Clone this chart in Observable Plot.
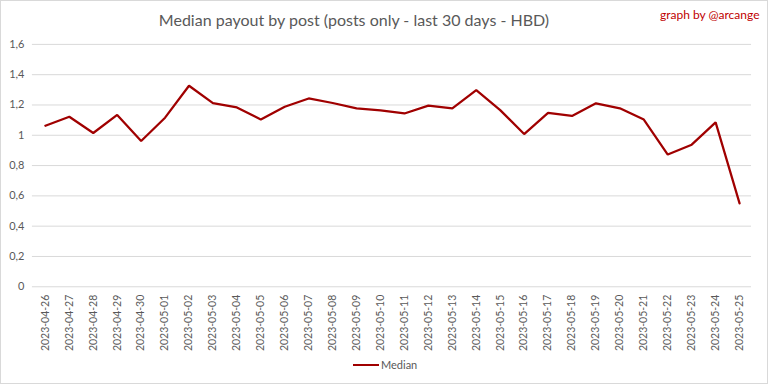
<!DOCTYPE html>
<html>
<head>
<meta charset="utf-8">
<script src="https://cdn.jsdelivr.net/npm/d3@7"></script>
<script src="https://cdn.jsdelivr.net/npm/@observablehq/plot@0.6"></script>
<style>
  body { margin: 0; background: #fff; }
  #chart { position: relative; width: 768px; height: 384px; box-sizing: border-box; border: 1px solid #d9d9d9; overflow: hidden; font-family: Lato, "Open Sans", sans-serif; }
  #chart svg { position: absolute; left: -1px; top: -1px; }
  #title { position: absolute; top: 9px; left: 0; width: 706px; text-align: center; font-size: 16px; color: #595959; z-index: 2; }
  #credit { position: absolute; top: 6px; left: 659px; font-size: 12px; color: #c00000; z-index: 2; }
  #legend { position: absolute; top: 357px; left: 352px; font-size: 11px; color: #595959; display: flex; align-items: center; z-index: 2; }
  #legend span.sw { display: inline-block; width: 26px; height: 2px; background: #a00000; margin-right: 2px; }
</style>
</head>
<body>
<div id="chart">
  <div id="title">Median payout by post (posts only - last 30 days - HBD)</div>
  <div id="credit">graph by @arcange</div>
  <div id="legend"><span class="sw"></span>Median</div>
</div>
<script>
const dates = ["2023-04-26","2023-04-27","2023-04-28","2023-04-29","2023-04-30","2023-05-01","2023-05-02","2023-05-03","2023-05-04","2023-05-05","2023-05-06","2023-05-07","2023-05-08","2023-05-09","2023-05-10","2023-05-11","2023-05-12","2023-05-13","2023-05-14","2023-05-15","2023-05-16","2023-05-17","2023-05-18","2023-05-19","2023-05-20","2023-05-21","2023-05-22","2023-05-23","2023-05-24","2023-05-25"];
const median = [1.063,1.122,1.015,1.134,0.962,1.116,1.327,1.212,1.184,1.104,1.188,1.243,1.213,1.177,1.164,1.144,1.196,1.177,1.298,1.166,1.008,1.148,1.128,1.211,1.178,1.104,0.873,0.938,1.085,0.550];
const yTicks = [0,0.2,0.4,0.6,0.8,1,1.2,1.4,1.6];
const yTickLabels = ["0","0,2","0,4","0,6","0,8","1","1,2","1,4","1,6"];

const data = dates.map((d, i) => ({date: d, value: median[i]}));

const plot = Plot.plot({
  width: 768,
  height: 384,
  marginTop: 44,
  marginBottom: 97,
  marginLeft: 32,
  marginRight: 15,
  style: {fontFamily: "Lato, 'Open Sans', sans-serif", fontSize: "11px", color: "#595959", background: "transparent"},
  x: {type: "point", domain: dates, padding: 0.5, label: null},
  y: {domain: [0, 1.6], label: null},
  marks: [
    Plot.ruleY(yTicks, {stroke: "#d9d9d9", strokeWidth: 1}),
    Plot.axisY({ticks: yTicks, tickSize: 0, tickPadding: 8, tickFormat: (d) => yTickLabels[yTicks.indexOf(d)], fill: "#595959", fontSize: 11}),
    Plot.axisX({tickSize: 0, tickRotate: -90, tickPadding: 8, fill: "#595959", fontSize: 10.5}),
    Plot.line(data, {x: "date", y: "value", stroke: "#a00000", strokeWidth: 2.25, strokeLinejoin: "miter"})
  ]
});
document.getElementById("chart").appendChild(plot);
</script>
</body>
</html>
